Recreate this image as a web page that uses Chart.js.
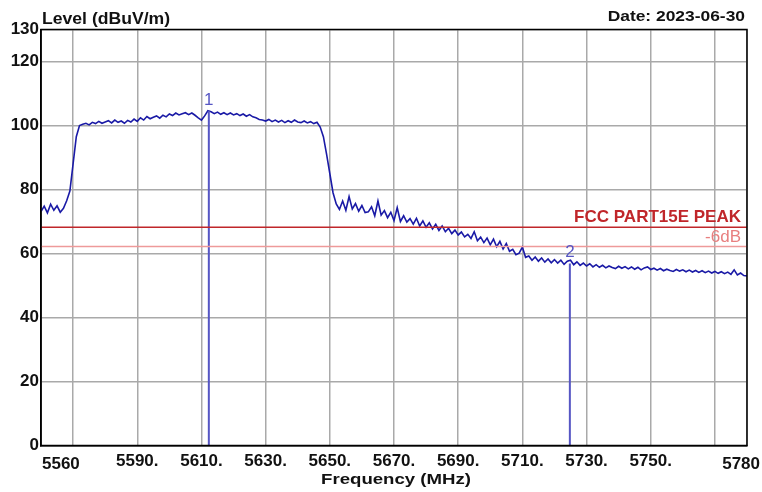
<!DOCTYPE html>
<html>
<head>
<meta charset="utf-8">
<script src="https://cdn.jsdelivr.net/npm/chart.js@4/dist/chart.umd.min.js"></script>
<style>
  html, body { margin: 0; padding: 0; background: #fff; }
  #wrap { width: 762px; height: 492px; }
</style>
</head>
<body>
<div id="wrap"><canvas id="spectrum" width="762" height="492"></canvas></div>
<script>
// Sweep: 5560 .. 5780 MHz, one reading per MHz
const freqStart = 5560;
const freqStep = 1;
const levels = [
  73.1, 74.8, 72.7, 75.4, 73.5, 74.9, 72.9, 74.1, 76.5, 79.5,
  88.0, 96.5, 100.0, 100.4, 100.7, 100.2, 101.0, 100.6, 101.3, 100.7,
  101.1, 101.5, 100.8, 101.7, 101.0, 101.4, 100.7, 101.6, 101.1, 102.0,
  101.3, 102.4, 101.7, 102.8, 102.1, 102.6, 103.0, 102.3, 103.2, 102.7,
  103.6, 103.1, 103.9, 103.3, 103.7, 104.0, 103.4, 103.9, 103.2, 102.4,
  101.7, 103.0, 104.6, 104.3, 103.7, 104.2, 103.5, 104.0, 103.4, 103.9,
  103.3, 103.7, 103.1, 103.6, 102.9, 103.4, 102.7, 102.4, 101.9, 101.7,
  101.4, 101.9, 101.2, 101.7, 101.1, 101.6, 100.9, 101.5, 101.0, 101.7,
  101.1, 100.9, 101.4, 100.8, 101.2, 100.6, 101.0, 99.5, 96.5, 91.0,
  85.0, 79.0, 75.5, 73.8, 76.4, 73.5, 77.8, 73.9, 75.6, 73.2,
  75.0, 72.8, 73.0, 74.6, 71.8, 76.4, 72.0, 73.4, 71.2, 72.9,
  70.3, 74.3, 70.0, 71.8, 69.8, 70.9, 69.2, 71.0, 68.6, 70.2,
  68.2, 69.6, 67.7, 69.1, 67.2, 68.6, 66.8, 67.9, 66.2, 67.3,
  65.8, 66.7, 65.2, 66.0, 64.7, 66.8, 64.0, 65.1, 63.4, 64.8,
  62.7, 64.5, 62.1, 63.8, 61.4, 63.1, 60.7, 61.3, 59.6, 60.1,
  62.0, 58.8, 59.2, 57.9, 58.9, 57.6, 58.6, 57.3, 58.3, 57.1,
  58.1, 57.0, 57.9, 56.6, 57.6, 57.9, 56.5, 57.4, 56.3, 57.0,
  56.1, 56.8, 55.8, 56.5, 55.7, 56.3, 55.5, 56.1, 55.6, 55.3,
  56.0, 55.4, 55.9, 55.2, 55.8, 55.1, 55.7, 54.9, 55.5, 55.8,
  55.0, 55.4, 54.8, 55.3, 54.6, 55.1, 54.7, 54.4, 55.0, 54.5,
  54.9, 54.3, 54.8, 54.2, 54.7, 54.1, 54.6, 54.0, 54.5, 53.9,
  54.4, 53.8, 54.3, 53.7, 54.2, 53.5, 54.9, 53.3, 53.9, 53.1,
  53.0
];

// markers (MHz, dBuV/m)
const markerNames = ["1", "2"];
const markerFreqs = [5612.3, 5724.8];
const markerLevels = [104.6, 56.9];

// limit lines
const limitNames = ["FCC PART15E PEAK", "-6dB"];
const limitLevels = [68.2, 62.2];

// axes
const xMin = 5560, xMax = 5780;
const xTickValues = [5560, 5570, 5590, 5610, 5630, 5650, 5670, 5690, 5710, 5730, 5750, 5770, 5780];
const xTickLabels = ["", "", "5590.", "5610.", "5630.", "5650.", "5670.", "5690.", "5710.", "5730.", "5750.", "", ""];
const yTickValues = [0, 20, 40, 60, 80, 100, 120, 130];

const traceColor = "#1a1aa6";
const markerColor = "#5656c4";
const limitColors = ["#c0262a", "#ee9a9a"];
const gridColor = "#a9a9a9";

const trace = levels.map((v, i) => ({ x: freqStart + i * freqStep, y: v }));

const datasets = [];
limitLevels.forEach((lv, i) => {
  datasets.push({
    data: [{ x: xMin, y: lv }, { x: xMax, y: lv }],
    borderColor: limitColors[i],
    borderWidth: 1.6,
    pointRadius: 0,
    showLine: true,
  });
});
markerFreqs.forEach((f, i) => {
  datasets.push({
    data: [{ x: f, y: 0 }, { x: f, y: markerLevels[i] }],
    borderColor: markerColor,
    borderWidth: 2,
    pointRadius: 0,
    showLine: true,
  });
});
datasets.push({
  data: trace,
  borderColor: traceColor,
  borderWidth: 1.6,
  pointRadius: 0,
  showLine: true,
  tension: 0,
});

// draw text in a horizontally stretched font (the reference is wider than tall)
function stretchedText(ctx, txt, x, y, font, color, align, sx) {
  ctx.save();
  ctx.font = font;
  ctx.fillStyle = color;
  ctx.textBaseline = "alphabetic";
  const w = ctx.measureText(txt).width * sx;
  let left = x;
  if (align === "right") left = x - w;
  else if (align === "center") left = x - w / 2;
  ctx.translate(left, y);
  ctx.scale(sx, 1);
  ctx.textAlign = "left";
  ctx.fillText(txt, 0, 0);
  ctx.restore();
}

const annotations = {
  id: "annotations",
  afterDraw(chart) {
    const ctx = chart.ctx;
    const xs = chart.scales.x, ys = chart.scales.y;
    const area = chart.chartArea;
    const font = "bold 16px 'Liberation Sans', Arial, sans-serif";

    stretchedText(ctx, "Level (dBuV/m)", area.left + 1, 23.5, font, "#111", "left", 1.1);
    stretchedText(ctx, "Date: 2023-06-30", 745, 20.7, "bold 15px 'Liberation Sans', Arial, sans-serif", "#111", "right", 1.16);
    stretchedText(ctx, "Frequency (MHz)", 396, 483.5, "bold 15.5px 'Liberation Sans', Arial, sans-serif", "#111", "center", 1.2);

    // edge frequency labels
    ctx.save();
    ctx.font = "bold 17px 'Liberation Sans', Arial, sans-serif";
    ctx.fillStyle = "#111";
    ctx.textBaseline = "alphabetic";
    ctx.textAlign = "left";
    ctx.fillText("5560", area.left + 1, 468.5);
    ctx.textAlign = "right";
    ctx.fillText("5780", 760, 468.5);
    ctx.restore();

    // limit line labels
    ctx.save();
    ctx.textAlign = "right";
    ctx.textBaseline = "alphabetic";
    ctx.font = "bold 17px 'Liberation Sans', Arial, sans-serif";
    ctx.fillStyle = limitColors[0];
    ctx.fillText(limitNames[0], area.right - 6, ys.getPixelForValue(limitLevels[0]) - 5.5);
    ctx.font = "17px 'Liberation Sans', Arial, sans-serif";
    ctx.fillStyle = "#e87f7f";
    ctx.fillText(limitNames[1], area.right - 6, ys.getPixelForValue(limitLevels[1]) - 4.5);
    ctx.restore();

    // marker numbers
    ctx.save();
    ctx.textAlign = "center";
    ctx.textBaseline = "alphabetic";
    ctx.font = "17px 'Liberation Sans', Arial, sans-serif";
    ctx.fillStyle = markerColor;
    markerFreqs.forEach((f, i) => {
      ctx.fillText(markerNames[i], xs.getPixelForValue(f), ys.getPixelForValue(markerLevels[i]) - 6);
    });
    ctx.restore();

    // plot frame
    ctx.save();
    ctx.strokeStyle = "#000";
    ctx.lineWidth = 1.5;
    ctx.strokeRect(area.left, area.top, area.right - area.left, area.bottom - area.top);
    ctx.restore();
  },
};

new Chart(document.getElementById("spectrum").getContext("2d"), {
  type: "scatter",
  data: { datasets: datasets },
  options: {
    responsive: false,
    animation: false,
    devicePixelRatio: 1,
    layout: { padding: { top: 29.5, right: 15, left: 0, bottom: 0 } },
    plugins: { legend: { display: false }, tooltip: { enabled: false } },
    scales: {
      x: {
        type: "linear",
        min: xMin,
        max: xMax,
        afterBuildTicks: (scale) => {
          scale.ticks = xTickValues.map((v) => ({ value: v }));
        },
        afterFit: (scale) => {
          scale.height = 46.5;
        },
        ticks: {
          autoSkip: false,
          maxRotation: 0,
          padding: 6,
          color: "#111",
          font: { family: "'Liberation Sans', Arial, sans-serif", size: 17, weight: "bold" },
          callback: (v) => {
            const k = xTickValues.indexOf(v);
            return k >= 0 ? xTickLabels[k] : "";
          },
        },
        grid: { color: gridColor, lineWidth: 1.5, drawTicks: false },
        border: { display: true, color: "#000", width: 1.5 },
      },
      y: {
        min: 0,
        max: 130,
        afterBuildTicks: (scale) => {
          scale.ticks = yTickValues.map((v) => ({ value: v }));
        },
        afterFit: (scale) => {
          scale.width = 41;
        },
        ticks: {
          autoSkip: false,
          padding: 2,
          color: "#111",
          font: { family: "'Liberation Sans', Arial, sans-serif", size: 17, weight: "bold" },
        },
        grid: { color: gridColor, lineWidth: 1.5, drawTicks: false },
        border: { display: true, color: "#000", width: 1.5 },
      },
    },
  },
  plugins: [annotations],
});
</script>
</body>
</html>
